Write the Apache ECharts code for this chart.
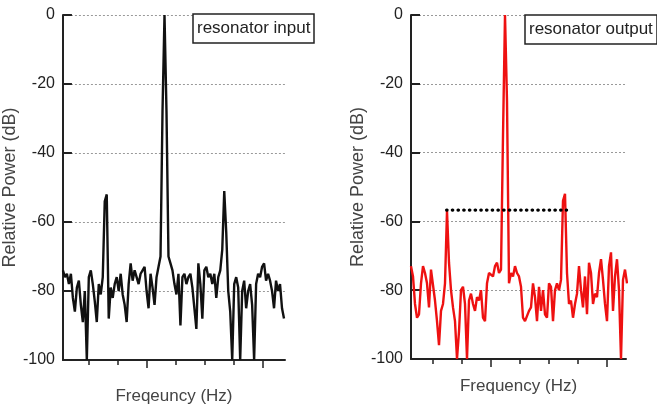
<!DOCTYPE html>
<html>
<head>
<meta charset="utf-8">
<script src="https://cdn.jsdelivr.net/npm/echarts@6/dist/echarts.min.js"></script>
<style>
  html, body { margin: 0; padding: 0; background: #fff; }
  #main { width: 657px; height: 411px; }
</style>
</head>
<body>
<div id="main"></div>
<script>
// spectra, relative power in dB, one sample per frequency step
var inputPower = [
  -74, -76, -75, -78, -75, -82, -86, -79, -77, -84, -89, -80, -100, -76, -74, -78,
  -83, -89, -78, -81, -76, -54, -52, -88, -79, -82, -78, -76, -80, -75, -81, -84,
  -89, -78, -72, -77, -74, -76, -78, -75, -74, -73, -80, -85, -75, -79, -84, -76,
  -73, -70, -28, 0, -28, -70, -72, -74, -78, -81, -75, -90, -76, -75, -78, -76,
  -75, -79, -85, -91, -72, -78, -88, -74, -73, -76, -75, -78, -75, -82, -76, -74,
  -68, -51, -63, -80, -86, -100, -78, -76, -79, -100, -80, -77, -85, -80, -78, -84,
  -100, -78, -75, -76, -73, -72, -77, -75, -77, -80, -85, -77, -80, -78, -85, -88
];
var outputPower = [
  -73, -76, -84, -88, -87, -78, -73, -75, -78, -85, -74, -74, -83, -89, -96, -86,
  -84, -78, -57, -72, -80, -85, -89, -100, -92, -80, -79, -84, -100, -83, -81, -84,
  -86, -82, -83, -80, -88, -89, -78, -75, -75, -76, -73, -72, -75, -74, -35, 0,
  -25, -78, -75, -76, -73, -75, -76, -79, -88, -89, -89, -86, -85, -78, -82, -89,
  -79, -86, -80, -87, -88, -78, -79, -89, -80, -78, -80, -77, -54, -52, -75, -84,
  -83, -88, -84, -81, -73, -80, -85, -76, -87, -72, -75, -84, -81, -82, -75, -71,
  -77, -84, -89, -73, -69, -86, -76, -71, -80, -100, -77, -74, -78
];
// sideband level marker on the output spectrum
var markerFreq = [17.8, 77.8];
var markerPower = [-56.7, -56.7];

var inputMajorTicks = [42, 100.5];
var inputMinorTicks = [12.75, 27.375, 56.625, 71.25, 85.875];
var outputMajorTicks = [39.85, 97.85];
var outputMinorTicks = [10.85, 25.35, 54.35, 68.85, 83.35];

function pairs(arr) {
  return arr.map(function (v, i) { return [i, v]; });
}

var font = 'Liberation Sans, Arial, sans-serif';

function yAxisFor(grid, gap) {
  return {
    type: 'value', gridIndex: grid, min: -100, max: 0, interval: 20,
    name: 'Relative Power (dB)', nameLocation: 'middle', nameGap: gap,
    nameTextStyle: { fontFamily: font, fontSize: 18, color: '#444' },
    axisLine: { show: true, lineStyle: { color: '#222', width: 2 } },
    axisTick: { show: true, inside: true, length: 9, lineStyle: { color: '#222', width: 2 } },
    axisLabel: { fontFamily: font, fontSize: 16, color: '#222', margin: 8 },
    splitLine: { show: true, lineStyle: { color: '#999', type: [2, 2], width: 1 } }
  };
}

function xAxisFor(grid, max, ticks, isMajor, name, gap) {
  return {
    type: 'value', gridIndex: grid, min: 0, max: max, position: 'bottom',
    name: isMajor ? name : '', nameLocation: 'middle', nameGap: gap,
    nameTextStyle: { fontFamily: font, fontSize: 17, color: '#444' },
    axisLine: { show: isMajor, onZero: false, lineStyle: { color: '#222', width: 2 } },
    axisTick: { show: true, customValues: ticks, length: isMajor ? 8 : 5,
      lineStyle: { color: '#222', width: 1.5 } },
    axisLabel: { show: false },
    splitLine: { show: false }
  };
}

var chart = echarts.init(document.getElementById('main'));
chart.setOption({
  animation: false,
  backgroundColor: '#fff',
  title: [
    { text: 'resonator input', left: 193, top: 14, padding: [6, 4],
      borderColor: '#222', borderWidth: 1.5, backgroundColor: '#fff',
      textStyle: { fontFamily: font, fontSize: 17, fontWeight: 'normal', color: '#222' } },
    { text: 'resonator output', left: 525, top: 15, padding: [6, 4],
      borderColor: '#222', borderWidth: 1.5, backgroundColor: '#fff',
      textStyle: { fontFamily: font, fontSize: 17, fontWeight: 'normal', color: '#222' } }
  ],
  grid: [
    { left: 62, top: 15, width: 223, height: 345 },
    { left: 411, top: 15, width: 215, height: 344 }
  ],
  xAxis: [
    xAxisFor(0, 111.5, inputMajorTicks, true, 'Freqeuncy (Hz)', 28),
    xAxisFor(0, 111.5, inputMinorTicks, false, '', 28),
    xAxisFor(1, 107.5, outputMajorTicks, true, 'Frequency (Hz)', 19),
    xAxisFor(1, 107.5, outputMinorTicks, false, '', 19)
  ],
  yAxis: [yAxisFor(0, 38), yAxisFor(1, 38)],
  series: [
    { type: 'line', xAxisIndex: 0, yAxisIndex: 0, data: pairs(inputPower),
      showSymbol: false, lineStyle: { color: '#111', width: 2.4 }, z: 3 },
    { type: 'line', xAxisIndex: 2, yAxisIndex: 1, data: pairs(outputPower),
      showSymbol: false, lineStyle: { color: '#ee1111', width: 2.4 }, z: 3 },
    { type: 'line', xAxisIndex: 2, yAxisIndex: 1,
      data: markerFreq.map(function (f, i) { return [f, markerPower[i]]; }),
      showSymbol: false, lineStyle: { color: '#000', width: 3.2, type: [0.5, 5.2], cap: 'round' }, z: 4 }
  ]
});
</script>
</body>
</html>
